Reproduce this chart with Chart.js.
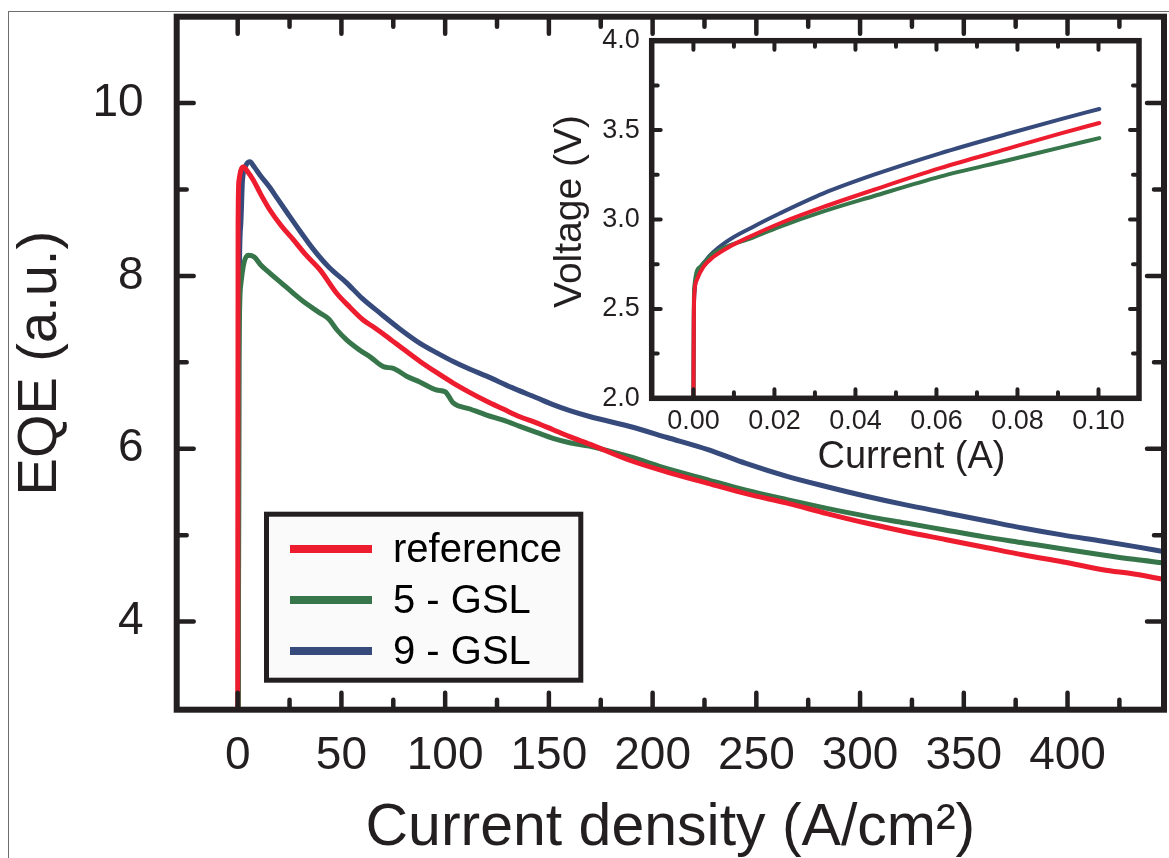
<!DOCTYPE html>
<html><head><meta charset="utf-8">
<script src="https://cdn.jsdelivr.net/npm/chart.js@4.4.1/dist/chart.umd.min.js"></script>
<style>
html,body{margin:0;padding:0;background:#fff;width:1169px;height:858px;overflow:hidden;}
#frame{position:absolute;left:8px;top:11px;width:1300px;height:1000px;border-left:1px solid #6d6d6d;border-top:1px solid #6d6d6d;}
#main{position:absolute;left:0;top:0;}
#inset{position:absolute;left:520px;top:0;}
</style></head><body>
<div id="frame"></div>
<canvas id="main" width="1169" height="858"></canvas>
<canvas id="inset" width="640" height="490"></canvas>
<script>
// ---------- data ----------
const seriesLabels = ['reference', '5 - GSL', '9 - GSL'];
const seriesColors = ['#ED1C2E', '#37764A', '#364A7C'];

// main plot: EQE vs current density
const refJ   = [0, 0.2, 0.6, 1.5, 2.7, 5, 7.5, 11, 15.6, 21, 26.8, 33, 39.7, 47.7, 54, 60.5, 66, 71.8, 80, 87.9, 96, 103.9, 112, 120, 128, 136, 144, 152, 160, 170, 188.6, 207, 226.7, 245, 264.8, 284, 302.9, 322, 341, 360, 379, 398, 417, 432, 446];
const refEQE = [2.5, 8.6, 9.1, 9.22, 9.26, 9.2, 9.11, 8.95, 8.76, 8.58, 8.42, 8.24, 8.07, 7.80, 7.64, 7.49, 7.40, 7.30, 7.15, 7.01, 6.88, 6.76, 6.65, 6.55, 6.46, 6.37, 6.30, 6.22, 6.14, 6.05, 5.87, 5.73, 5.60, 5.48, 5.37, 5.25, 5.14, 5.04, 4.95, 4.86, 4.77, 4.69, 4.60, 4.55, 4.49];

const gsl5J   = [0.3, 0.6, 1.5, 3.0, 5.1, 8, 11, 15.6, 21, 26.8, 33, 39.7, 44, 47.7, 52.5, 58.9, 64, 70.2, 75, 81.4, 88, 95.9, 100, 103.9, 112, 120, 128, 136, 144, 152, 160, 169.5, 188.6, 207, 226.7, 245, 264.8, 284, 302.9, 322, 341, 360, 379, 398, 417, 432, 446];
const gsl5EQE = [2.5, 7.0, 7.9, 8.15, 8.24, 8.22, 8.13, 8.03, 7.92, 7.80, 7.68, 7.57, 7.50, 7.38, 7.26, 7.14, 7.06, 6.95, 6.93, 6.84, 6.77, 6.68, 6.66, 6.53, 6.46, 6.39, 6.33, 6.26, 6.19, 6.12, 6.07, 6.03, 5.91, 5.77, 5.64, 5.52, 5.41, 5.31, 5.22, 5.14, 5.06, 4.98, 4.91, 4.84, 4.77, 4.72, 4.68];

const gsl9J   = [0.3, 0.6, 1.5, 2.3, 4, 5.9, 8, 11, 15.6, 19, 23.6, 30, 36.4, 44, 52.5, 60, 68.6, 78, 87.9, 96, 103.9, 112, 120, 132, 144.1, 152, 160.1, 170, 188.6, 207, 226.7, 245, 264.8, 284, 302.9, 322, 341, 360, 379, 398, 417, 432, 446];
const gsl9EQE = [2.5, 7.5, 8.6, 9.1, 9.28, 9.32, 9.26, 9.16, 9.02, 8.90, 8.74, 8.52, 8.31, 8.10, 7.92, 7.74, 7.57, 7.39, 7.22, 7.11, 7.01, 6.92, 6.84, 6.71, 6.59, 6.51, 6.44, 6.37, 6.26, 6.13, 5.99, 5.83, 5.68, 5.56, 5.45, 5.35, 5.26, 5.17, 5.08, 5.00, 4.93, 4.87, 4.81];

// inset: voltage vs current
const refI  = [0, 0.0001, 0.0002, 0.0008, 0.0025, 0.0049, 0.0091, 0.0148, 0.0214, 0.0321, 0.0444, 0.0609, 0.0774, 0.0905, 0.1002];
const refV  = [1.95, 2.45, 2.57, 2.66, 2.736, 2.79, 2.85, 2.913, 2.979, 3.07, 3.165, 3.287, 3.395, 3.48, 3.54];
const gsl5I = [0, 0.0001, 0.0002, 0.0017, 0.0049, 0.0148, 0.0214, 0.0321, 0.0444, 0.0609, 0.0774, 0.0905, 0.1002];
const gsl5V = [1.95, 2.5, 2.62, 2.736, 2.81, 2.90, 2.96, 3.045, 3.13, 3.24, 3.33, 3.402, 3.455];
const gsl9I = [0, 0.0001, 0.0003, 0.001, 0.003, 0.0082, 0.0148, 0.0214, 0.0321, 0.0444, 0.0609, 0.0774, 0.0905, 0.1002];
const gsl9V = [1.95, 2.45, 2.6, 2.69, 2.77, 2.876, 2.96, 3.035, 3.146, 3.249, 3.37, 3.478, 3.56, 3.618];

// ticks
const mainXTicks = [0, 50, 100, 150, 200, 250, 300, 350, 400];
const mainXTickLabels = ['0', '50', '100', '150', '200', '250', '300', '350', '400'];
const mainXMinor = [25, 75, 125, 175, 225, 275, 325, 375, 425];
const mainYTicks = [4, 6, 8, 10];
const mainYTickLabels = ['4', '6', '8', '10'];
const mainYMinor = [5, 7, 9];
const insetXTicks = [0, 0.02, 0.04, 0.06, 0.08, 0.10];
const insetXTickLabels = ['0.00', '0.02', '0.04', '0.06', '0.08', '0.10'];
const insetXMinor = [0.01, 0.03, 0.05, 0.07, 0.09];
const insetYTicks = [2.0, 2.5, 3.0, 3.5, 4.0];
const insetYTickLabels = ['2.0', '2.5', '3.0', '3.5', '4.0'];
const insetYMinor = [2.25, 2.75, 3.25, 3.75];

// ---------- helpers ----------
const FONT = "'Liberation Sans', Arial, Helvetica, sans-serif";
const INK = '#231F20';
const pts = (xs, ys) => xs.map((x, i) => ({x: x, y: ys[i]}));

const framePlugin = {
  id: 'frameTicks',
  afterDraw(chart, args, o) {
    const {ctx, chartArea: a} = chart;
    const x = chart.scales.x, y = chart.scales.y;
    ctx.save();
    ctx.strokeStyle = INK;
    ctx.lineCap = 'round';
    ctx.lineWidth = o.tickWidth;
    const tx = (vals, len) => vals.forEach(v => {
      const p = x.getPixelForValue(v);
      ctx.beginPath();
      ctx.moveTo(p, a.bottom); ctx.lineTo(p, a.bottom - len);
      ctx.moveTo(p, a.top); ctx.lineTo(p, a.top + len);
      ctx.stroke();
    });
    const ty = (vals, len) => vals.forEach(v => {
      const p = y.getPixelForValue(v);
      ctx.beginPath();
      ctx.moveTo(a.left, p); ctx.lineTo(a.left + len, p);
      ctx.moveTo(a.right, p); ctx.lineTo(a.right - len, p);
      ctx.stroke();
    });
    tx(o.xMajor, o.majorLen); tx(o.xMinor, o.minorLen);
    ty(o.yMajor, o.majorLen); ty(o.yMinor, o.minorLen);
    ctx.lineCap = 'butt';
    ctx.lineJoin = 'miter';
    ctx.lineWidth = o.frameWidth;
    ctx.strokeRect(a.left, a.top, a.right - a.left, a.bottom - a.top);
    ctx.restore();
  }
};

const legendPlugin = {
  id: 'boxLegend',
  afterDraw(chart, args, o) {
    if (!o.show) return;
    const ctx = chart.ctx;
    ctx.save();
    ctx.fillStyle = '#FAFAFA';
    ctx.fillRect(o.x1, o.y1, o.x2 - o.x1, o.y2 - o.y1);
    ctx.strokeStyle = INK;
    ctx.lineWidth = o.border;
    ctx.strokeRect(o.x1, o.y1, o.x2 - o.x1, o.y2 - o.y1);
    ctx.font = o.fontSize + 'px ' + FONT;
    ctx.textBaseline = 'middle';
    ctx.textAlign = 'left';
    chart.data.datasets.forEach((ds, i) => {
      const yy = o.rowY[i];
      ctx.strokeStyle = ds.borderColor;
      ctx.lineWidth = o.sampleWidth;
      ctx.lineCap = 'butt';
      ctx.beginPath();
      ctx.moveTo(o.sampleX1, yy); ctx.lineTo(o.sampleX2, yy);
      ctx.stroke();
      ctx.fillStyle = '#000';
      ctx.fillText(ds.label, o.textX, yy + 2);
    });
    ctx.restore();
  }
};

const titlePlugin = {
  id: 'insetTitles',
  afterDraw(chart, args, o) {
    if (!o.show) return;
    const ctx = chart.ctx;
    ctx.save();
    ctx.fillStyle = INK;
    ctx.textAlign = 'center';
    ctx.textBaseline = 'alphabetic';
    ctx.font = o.xSize + 'px ' + FONT;
    ctx.fillText(o.xText, o.xX, o.xY);
    ctx.translate(o.yX, o.yY);
    ctx.rotate(-Math.PI / 2);
    ctx.font = o.ySize + 'px ' + FONT;
    ctx.fillText(o.yText, 0, 0);
    ctx.restore();
  }
};

function lineDs(i, data, w) {
  return {
    label: seriesLabels[i], data: data,
    borderColor: seriesColors[i], backgroundColor: seriesColors[i],
    borderWidth: w, pointRadius: 0, fill: false,
    cubicInterpolationMode: 'monotone',
    borderCapStyle: 'round', borderJoinStyle: 'round'
  };
}
const fixX = h => s => { s.height = h; s.paddingLeft = 0; s.paddingRight = 0; };
const fixY = w => s => { s.width = w; s.paddingTop = 0; s.paddingBottom = 0; };

// ---------- main chart ----------
new Chart(document.getElementById('main'), {
  type: 'line',
  data: {
    datasets: [
      lineDs(0, pts(refJ, refEQE), 5),
      lineDs(1, pts(gsl5J, gsl5EQE), 5),
      lineDs(2, pts(gsl9J, gsl9EQE), 5)
    ]
  },
  options: {
    responsive: false, animation: false, devicePixelRatio: 1,
    layout: {padding: {top: 16.7, right: 5, left: 0, bottom: 0}},
    plugins: {
      legend: {display: false}, tooltip: {enabled: false},
      frameTicks: {tickWidth: 4.5, majorLen: 17, minorLen: 10, frameWidth: 6,
        xMajor: mainXTicks, xMinor: mainXMinor, yMajor: mainYTicks, yMinor: mainYMinor},
      boxLegend: {show: true, x1: 266.5, y1: 514.2, x2: 580.8, y2: 680.2, border: 5,
        rowY: [549, 600, 651], sampleX1: 290, sampleX2: 372, sampleWidth: 8,
        textX: 393, fontSize: 40},
      insetTitles: {show: false}
    },
    scales: {
      x: {
        type: 'linear', min: -29.4, max: 446.5,
        grid: {display: false, drawTicks: false}, border: {display: false},
        afterBuildTicks: s => { s.ticks = mainXTicks.map(v => ({value: v})); },
        afterFit: fixX(148.3),
        ticks: {autoSkip: false, maxRotation: 0, minRotation: 0, padding: 19, color: INK,
          font: {family: FONT, size: 46}, callback: (v, i) => mainXTickLabels[i]},
        title: {display: true, text: 'Current density (A/cm²)', color: INK,
          font: {family: FONT, size: 59, lineHeight: 1}, padding: {top: 0, bottom: 0}}
      },
      y: {
        type: 'linear', min: 2.98, max: 11.0,
        grid: {display: false, drawTicks: false}, border: {display: false},
        afterBuildTicks: s => { s.ticks = mainYTicks.map(v => ({value: v})); },
        afterFit: fixY(176.7),
        ticks: {autoSkip: false, padding: 33, color: INK,
          font: {family: FONT, size: 46}, callback: (v, i) => mainYTickLabels[i]},
        title: {display: true, text: 'EQE (a.u.)', color: INK,
          font: {family: FONT, size: 56, lineHeight: 1}, padding: {top: 13, bottom: 0}}
      }
    }
  },
  plugins: [framePlugin, legendPlugin, titlePlugin]
});

// ---------- inset chart ----------
new Chart(document.getElementById('inset'), {
  type: 'line',
  data: {
    datasets: [
      lineDs(0, pts(refI, refV), 4),
      lineDs(1, pts(gsl5I, gsl5V), 4),
      lineDs(2, pts(gsl9I, gsl9V), 4)
    ]
  },
  options: {
    responsive: false, animation: false, devicePixelRatio: 1,
    layout: {padding: {top: 40.7, right: 21, left: 0, bottom: 0}},
    plugins: {
      legend: {display: false}, tooltip: {enabled: false},
      frameTicks: {tickWidth: 4, majorLen: 9, minorLen: 6, frameWidth: 5.5,
        xMajor: insetXTicks, xMinor: insetXMinor, yMajor: insetYTicks, yMinor: insetYMinor},
      boxLegend: {show: false},
      insetTitles: {show: true, xText: 'Current (A)', xSize: 38, xX: 391.5, xY: 468,
        yText: 'Voltage (V)', ySize: 39, yX: 61, yY: 211.5}
    },
    scales: {
      x: {
        type: 'linear', min: -0.0103, max: 0.110,
        grid: {display: false, drawTicks: false}, border: {display: false},
        afterBuildTicks: s => { s.ticks = insetXTicks.map(v => ({value: v})); },
        afterFit: fixX(91.7),
        ticks: {autoSkip: false, maxRotation: 0, minRotation: 0, padding: 7, color: INK,
          font: {family: FONT, size: 27}, callback: (v, i) => insetXTickLabels[i]},
        title: {display: false}
      },
      y: {
        type: 'linear', min: 2.0, max: 4.0,
        grid: {display: false, drawTicks: false}, border: {display: false},
        afterBuildTicks: s => { s.ticks = insetYTicks.map(v => ({value: v})); },
        afterFit: fixY(131.7),
        ticks: {autoSkip: false, padding: 12, color: INK,
          font: {family: FONT, size: 27}, callback: (v, i) => insetYTickLabels[i]},
        title: {display: false}
      }
    }
  },
  plugins: [framePlugin, legendPlugin, titlePlugin]
});
</script>
</body></html>
